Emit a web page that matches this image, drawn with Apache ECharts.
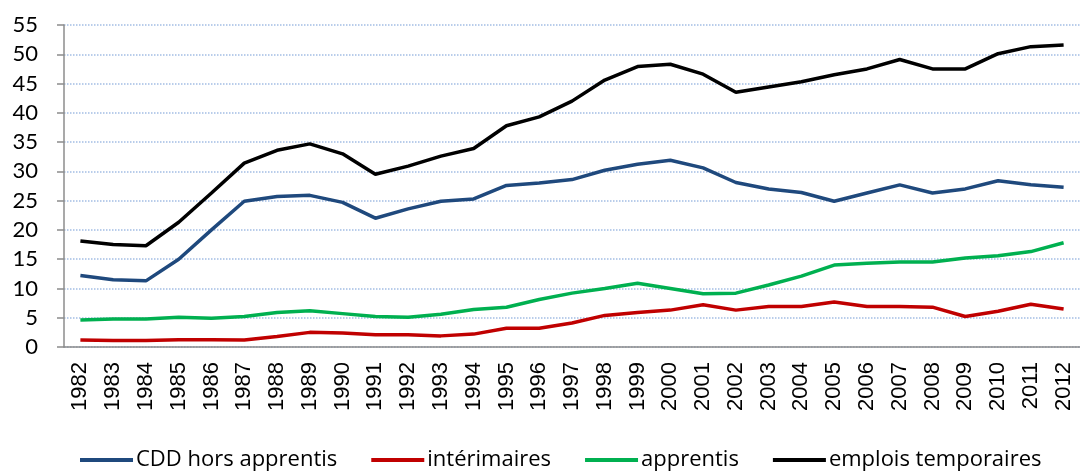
<!DOCTYPE html>
<html>
<head>
<meta charset="utf-8">
<script src="https://cdn.jsdelivr.net/npm/echarts@6/dist/echarts.min.js"></script>
<style>
  html, body { margin: 0; padding: 0; background: #fff; }
  #chart { width: 1080px; height: 472px; }
</style>
</head>
<body>
<div id="chart"></div>
<script>
// années
var years = [];
for (var y = 1982; y <= 2012; y++) years.push(String(y));

var cdd = [12.2, 11.5, 11.3, 15.0, 20.0, 24.9, 25.7, 25.9, 24.7, 22.0, 23.6, 24.9, 25.3, 27.6, 28.0, 28.6,
  30.2, 31.2, 31.9, 30.6, 28.1, 27.0, 26.4, 24.9, 26.3, 27.7, 26.3, 27.0, 28.4, 27.7, 27.3];
var interimaires = [1.2, 1.1, 1.1, 1.25, 1.25, 1.2, 1.8, 2.5, 2.4, 2.1, 2.1, 1.9, 2.2, 3.2, 3.2, 4.1,
  5.4, 5.9, 6.3, 7.2, 6.3, 6.9, 6.9, 7.7, 6.9, 6.9, 6.8, 5.2, 6.1, 7.3, 6.5];
var apprentis = [4.6, 4.8, 4.8, 5.1, 4.9, 5.2, 5.9, 6.2, 5.7, 5.2, 5.1, 5.6, 6.4, 6.8, 8.1, 9.2,
  10.0, 10.9, 10.0, 9.1, 9.2, 10.6, 12.1, 14.0, 14.3, 14.5, 14.5, 15.2, 15.6, 16.3, 17.8];
var temporaires = [18.1, 17.5, 17.3, 21.3, 26.3, 31.4, 33.6, 34.7, 33.0, 29.5, 30.9, 32.6, 33.9, 37.8, 39.3, 42.0,
  45.6, 47.9, 48.3, 46.6, 43.5, 44.4, 45.3, 46.5, 47.5, 49.1, 47.5, 47.5, 50.1, 51.3, 51.6];

var chart = echarts.init(document.getElementById("chart"));

function serie(name, data, color) {
  return {
    name: name,
    type: "line",
    data: data,
    symbol: "none",
    lineStyle: { color: color, width: 3.5 },
    itemStyle: { color: color },
  };
}

var option = {
  animation: false,
  grid: { left: 64, top: 25, width: 1023, height: 322 },
  legend: {
    top: 444,
    left: 75,
    icon: "rect",
    itemWidth: 53,
    itemHeight: 4,
    itemGap: 34,
    textStyle: { fontFamily: "Open Sans", fontSize: 22, color: "#000", padding: [0, 0, 0, -2] },
    data: ["CDD hors apprentis", "intérimaires", "apprentis", "emplois temporaires"],
  },
  xAxis: {
    type: "category",
    data: years,
    boundaryGap: true,
    axisLine: { lineStyle: { color: "#8c8c8c", width: 1.5 } },
    axisTick: { length: 7, lineStyle: { color: "#8c8c8c", width: 1.5 } },
    axisLabel: {
      rotate: 90,
      interval: 0,
      margin: 15,
      fontFamily: "Liberation Sans",
      fontSize: 22,
      color: "#000",
    },
  },
  yAxis: {
    type: "value",
    min: 0,
    max: 55,
    interval: 5,
    axisLine: { show: true, lineStyle: { color: "#8c8c8c", width: 1.5 } },
    axisTick: { show: true, length: 7, lineStyle: { color: "#8c8c8c", width: 1.5 } },
    axisLabel: { fontFamily: "Lato", fontSize: 22, color: "#000", margin: 26 },
    splitLine: { lineStyle: { color: "#a3bde3", type: "dotted", width: 1.5 } },
  },
  series: [
    serie("CDD hors apprentis", cdd, "#1f497d"),
    serie("intérimaires", interimaires, "#c00000"),
    serie("apprentis", apprentis, "#00b050"),
    serie("emplois temporaires", temporaires, "#000000"),
  ],
};

chart.setOption(option);
</script>
</body>
</html>
